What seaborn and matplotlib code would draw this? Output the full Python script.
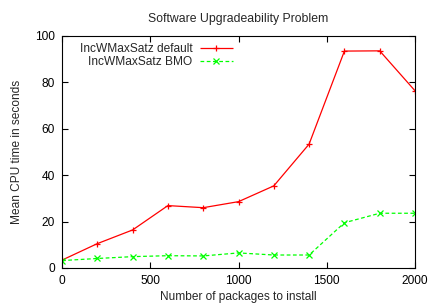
import matplotlib
matplotlib.use("Agg")
import matplotlib.pyplot as plt
import pandas as pd
import seaborn as sns

packages = [0, 200, 400, 600, 800, 1000, 1200, 1400, 1600, 1800, 2000]
default_times = [3.4, 10.5, 16.4, 26.9, 26.0, 28.6, 35.4, 53.4, 93.5, 93.6, 76.4]
bmo_times = [3.2, 4.1, 4.9, 5.3, 5.2, 6.5, 5.6, 5.6, 19.5, 23.6, 23.6]
labels = ["IncWMaxSatz default", "IncWMaxSatz BMO"]

df = pd.concat([
    pd.DataFrame({"packages": packages, "time": default_times, "series": labels[0]}),
    pd.DataFrame({"packages": packages, "time": bmo_times, "series": labels[1]}),
], ignore_index=True)

sns.set_style("ticks")
plt.rcParams["font.family"] = ["Liberation Sans", "DejaVu Sans"]
plt.rcParams["font.size"] = 8.6
plt.rcParams["xtick.direction"] = "in"
plt.rcParams["ytick.direction"] = "in"

fs = 8.6
f = plt.figure(figsize=(4.36, 3.05), dpi=100)
ax = f.add_axes([62 / 436, 1 - 268 / 305, (415 - 62) / 436, (268 - 36) / 305])

sns.lineplot(
    data=df,
    x="packages",
    y="time",
    hue="series",
    style="series",
    palette={labels[0]: "#ff0000", labels[1]: "#00ff00"},
    markers={labels[0]: "+", labels[1]: "x"},
    dashes={labels[0]: (1, 0), labels[1]: (3, 2)},
    linewidth=0.9,
    markersize=4,
    ax=ax,
)
# gnuplot-style markers: same colour as the line
for ln in ax.lines:
    ln.set_markeredgecolor(ln.get_color())
    ln.set_markeredgewidth(0.9)

ax.set_xlim(0, 2000)
ax.set_ylim(0, 100)
ax.set_xticks([0, 500, 1000, 1500, 2000])
ax.set_yticks([0, 20, 40, 60, 80, 100])
ax.tick_params(top=True, right=True, length=4, width=0.8, colors="black", labelsize=fs, pad=5)
for s in ax.spines.values():
    s.set_linewidth(0.8)
    s.set_color("black")

ax.set_xlabel("Number of packages to install", fontsize=fs, labelpad=3)
ax.set_ylabel("Mean CPU time in seconds", fontsize=fs, labelpad=9)
ax.set_title("Software Upgradeability Problem", fontsize=fs + 0.2, pad=10)

leg = ax.legend(
    loc="upper left",
    bbox_to_anchor=(0.03, 1.0),
    frameon=False,
    markerfirst=False,
    handlelength=2.8,
    handletextpad=0.6,
    labelspacing=0.05,
    fontsize=fs,
    borderaxespad=0.2,
)
leg.set_title(None)
for ln in leg.get_lines():
    ln.set_markeredgecolor(ln.get_color())
    ln.set_markeredgewidth(0.9)

f.savefig("out.png", dpi=100)
